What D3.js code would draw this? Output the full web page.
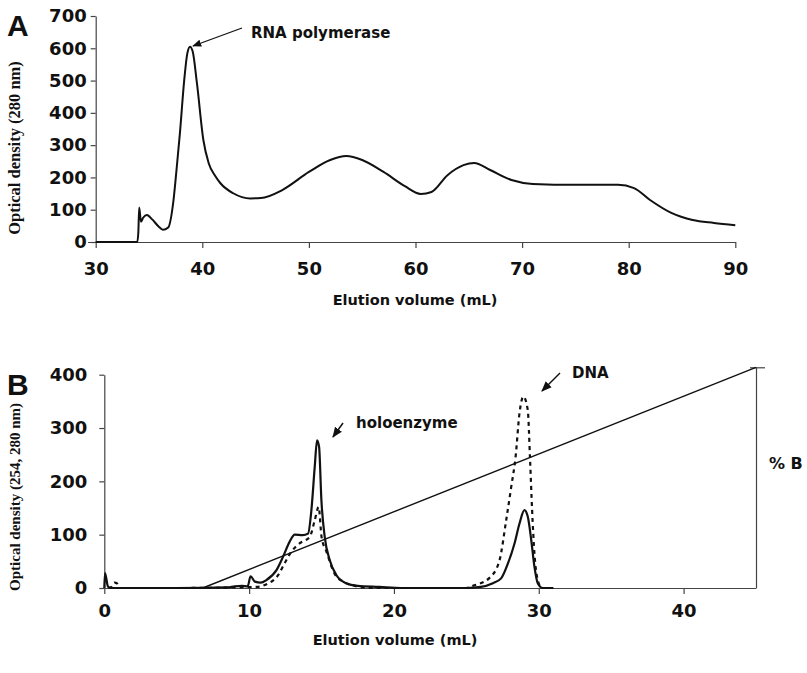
<!DOCTYPE html>
<html><head><meta charset="utf-8">
<script src="https://cdn.jsdelivr.net/npm/d3@7"></script>
<style>
body{margin:0;background:#fff;}
text{fill:#111;}
.tick text{font-family:"DejaVu Sans",sans-serif;font-weight:bold;}
</style></head>
<body><svg id="c" width="807" height="673"></svg>
<script>
// ---------- Panel A data ----------
const aVolume = [30, 33.9, 34.0, 34.08, 34.25, 34.45, 34.8, 35.3, 35.9, 36.3, 36.8, 37.3, 37.6, 37.9, 38.3, 38.6, 38.85, 39.1, 39.5, 40.1, 40.6, 41.2, 41.7, 42.9, 44.5, 45.5, 47.5, 50, 52, 53.5, 55, 57, 59, 60.5, 61.5, 63, 64.5, 65.5, 67, 69, 71, 75, 79, 80.5, 82, 84, 86, 88, 90];
const aOD280 = [0, 0, 30, 107, 63, 75, 84, 70, 48, 38, 45, 130, 230, 337, 500, 585, 605, 590, 491, 316, 244, 205, 182, 151, 135, 136, 161, 217, 254, 266, 254, 217, 173, 149, 155, 207, 238, 245, 223, 192, 180, 177, 177, 167, 130, 90, 68, 59, 52];
const aXTicks = [30, 40, 50, 60, 70, 80, 90];
const aYTicks = [0, 100, 200, 300, 400, 500, 600, 700];

// ---------- Panel B data ----------
const bVolumeSolid = [0, 0.05, 0.25, 0.45, 5, 8.5, 9.0, 9.5, 9.9, 10.1, 10.4, 10.8, 11.2, 11.9, 12.35, 12.8, 13.15, 13.7, 14.07, 14.3, 14.53, 14.69, 14.83, 14.99, 15.22, 15.57, 16.03, 16.7, 17.5, 19, 20.5, 25, 26, 26.83, 27.4, 27.87, 28.33, 28.67, 29.01, 29.24, 29.48, 29.7, 29.93, 30.28, 31];
const bOD280 = [0, 28, 3, 0, 0, 1, 3, 4, 3, 22, 12, 10, 15, 34, 59, 87, 100, 99, 102, 146, 227, 277, 265, 165, 96, 52, 24, 9, 4, 2, 0, 0, 2, 9, 18, 46, 84, 121, 146, 134, 90, 40, 9, 0, 0];
const bVolumeDashed = [0.3, 0.5, 0.7, 0.9, 1.1, 5, 10.5, 11.2, 12.0, 12.46, 12.92, 13.5, 14.19, 14.53, 14.8, 15.0, 15.34, 15.9, 16.5, 17.3, 18.5, 25, 25.45, 26.6, 27.29, 27.75, 28.1, 28.4, 28.67, 28.94, 29.24, 29.4, 29.54, 29.7, 29.93, 30.2, 31];
const bOD254 = [0, 2, 10, 8, 0, 0, 2, 7, 24, 47, 68, 84, 96, 127, 152, 96, 68, 27, 12, 4, 0, 0, 4, 19, 52, 127, 190, 246, 328, 359, 334, 240, 146, 65, 15, 0, 0];
const gradientVolume = [6.8, 45];
const gradientPercentB = [0, 100];
const bXTicks = [0, 10, 20, 30, 40];
const bYTicks = [0, 100, 200, 300, 400];

const svg = d3.select("#c");
const axisColor = "#444";

// ===== Panel A =====
const xA = d3.scaleLinear().domain([30, 90]).range([95.7, 735.3]);
const yA = d3.scaleLinear().domain([0, 700]).range([242, 16]);

const gAx = svg.append("g").attr("transform", "translate(0,242)")
  .call(d3.axisBottom(xA).tickValues(aXTicks).tickSize(6).tickPadding(14).tickSizeOuter(0));
gAx.select(".domain").attr("d", "M88,0.5H736");
const gAy = svg.append("g").attr("transform", "translate(95.7,0)")
  .call(d3.axisLeft(yA).tickValues(aYTicks).tickSize(5).tickPadding(4).tickSizeOuter(0));
[gAx, gAy].forEach(g => {
  g.selectAll("line,path").attr("stroke", axisColor).attr("stroke-width", 1.2);
  g.selectAll("text").attr("font-size", 18).attr("fill", "#111");
});

const lineA = d3.line().x((d, i) => xA(aVolume[i])).y(d => yA(d)).curve(d3.curveMonotoneX);
svg.append("path").attr("d", lineA(aOD280)).attr("fill", "none")
  .attr("stroke", "#111").attr("stroke-width", 2).attr("stroke-linejoin", "round");

// arrow marker
const defs = svg.append("defs");
defs.append("marker").attr("id", "ah").attr("viewBox", "0 0 10 10").attr("refX", 9).attr("refY", 5)
  .attr("markerWidth", 7).attr("markerHeight", 7).attr("orient", "auto")
  .append("path").attr("d", "M0,1L10,5L0,9Z").attr("fill", "#111");

svg.append("line").attr("x1", 242).attr("y1", 28).attr("x2", 193).attr("y2", 46)
  .attr("stroke", "#111").attr("stroke-width", 1.3).attr("marker-end", "url(#ah)");
svg.append("text").attr("x", 251).attr("y", 38).text("RNA polymerase")
  .attr("font-family", "DejaVu Sans, sans-serif").attr("font-weight", "bold").attr("font-size", 15);

svg.append("text").attr("x", 7).attr("y", 36).text("A")
  .attr("font-family", "Liberation Sans, Arial, sans-serif").attr("font-weight", "bold").attr("font-size", 30);
svg.append("text").attr("transform", "translate(20,148) rotate(-90)").attr("text-anchor", "middle")
  .text("Optical density (280 nm)")
  .attr("font-family", "Liberation Serif, serif").attr("font-weight", "bold").attr("font-size", 16.5);
svg.append("text").attr("x", 415).attr("y", 305).attr("text-anchor", "middle").text("Elution volume (mL)")
  .attr("font-family", "DejaVu Sans, sans-serif").attr("font-weight", "bold").attr("font-size", 14.5);

// ===== Panel B =====
const xB = d3.scaleLinear().domain([0, 45]).range([104.3, 756]);
const yB = d3.scaleLinear().domain([0, 400]).range([588, 374.7]);
const yB2 = d3.scaleLinear().domain([0, 100]).range([588, 367.3]);

const gBx = svg.append("g").attr("transform", "translate(0,588)")
  .call(d3.axisBottom(xB).tickValues(bXTicks).tickSize(6).tickPadding(10).tickSizeOuter(0));
const gBy = svg.append("g").attr("transform", "translate(104.3,0)")
  .call(d3.axisLeft(yB).tickValues(bYTicks).tickSize(5).tickPadding(12).tickSizeOuter(0));
const gBr = svg.append("g").attr("transform", "translate(756,0)")
  .call(d3.axisRight(yB2).tickValues([100]).tickSize(9).tickFormat(""));
gBr.select(".domain").attr("d", "M0.5,588V367.3");
gBr.select(".tick line").attr("x1", -6);
[gBx, gBy, gBr].forEach(g => {
  g.selectAll("line,path").attr("stroke", axisColor).attr("stroke-width", 1.2);
  g.selectAll("text").attr("font-size", 18).attr("fill", "#111");
});

const lineBs = d3.line().x((d, i) => xB(bVolumeSolid[i])).y(d => yB(d)).curve(d3.curveMonotoneX);
const lineBd = d3.line().x((d, i) => xB(bVolumeDashed[i])).y(d => yB(d)).curve(d3.curveMonotoneX);
const lineG = d3.line().x((d, i) => xB(gradientVolume[i])).y(d => yB2(d));

svg.append("path").attr("d", lineG(gradientPercentB)).attr("fill", "none")
  .attr("stroke", "#111").attr("stroke-width", 1.4);
svg.append("path").attr("d", lineBd(bOD254)).attr("fill", "none")
  .attr("stroke", "#111").attr("stroke-width", 2.2).attr("stroke-dasharray", "4,4");
svg.append("path").attr("d", lineBs(bOD280)).attr("fill", "none")
  .attr("stroke", "#111").attr("stroke-width", 2.2).attr("stroke-linejoin", "round");

// annotations
svg.append("line").attr("x1", 343).attr("y1", 423).attr("x2", 333).attr("y2", 437)
  .attr("stroke", "#111").attr("stroke-width", 1.5).attr("marker-end", "url(#ah)");
svg.append("text").attr("x", 356).attr("y", 428).text("holoenzyme")
  .attr("font-family", "DejaVu Sans, sans-serif").attr("font-weight", "bold").attr("font-size", 15);
svg.append("line").attr("x1", 560).attr("y1", 373).attr("x2", 542).attr("y2", 391)
  .attr("stroke", "#111").attr("stroke-width", 1.5).attr("marker-end", "url(#ah)");
svg.append("text").attr("x", 572).attr("y", 378).text("DNA")
  .attr("font-family", "DejaVu Sans, sans-serif").attr("font-weight", "bold").attr("font-size", 15);
svg.append("text").attr("x", 769).attr("y", 469).text("% B")
  .attr("font-family", "DejaVu Sans, sans-serif").attr("font-weight", "bold").attr("font-size", 16);

svg.append("text").attr("x", 7).attr("y", 395).text("B")
  .attr("font-family", "Liberation Sans, Arial, sans-serif").attr("font-weight", "bold").attr("font-size", 30);
svg.append("text").attr("transform", "translate(20,497) rotate(-90)").attr("text-anchor", "middle")
  .text("Optical density (254, 280 nm)")
  .attr("font-family", "Liberation Serif, serif").attr("font-weight", "bold").attr("font-size", 15);
svg.append("text").attr("x", 395).attr("y", 645).attr("text-anchor", "middle").text("Elution volume (mL)")
  .attr("font-family", "DejaVu Sans, sans-serif").attr("font-weight", "bold").attr("font-size", 14.5);
</script></body></html>
